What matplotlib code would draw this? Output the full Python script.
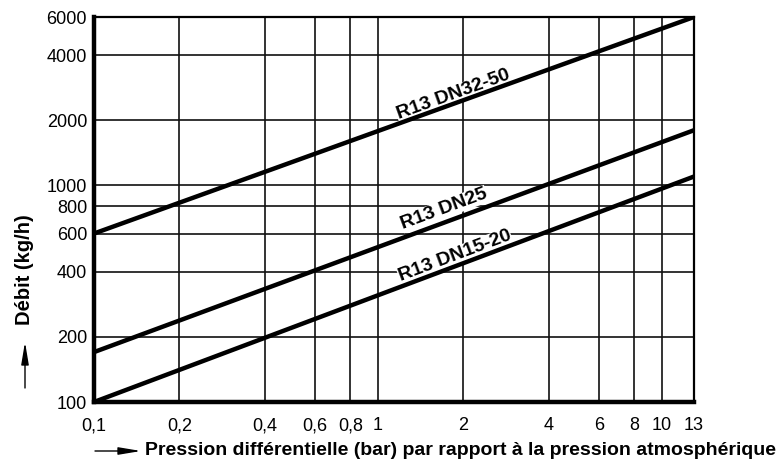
import matplotlib
matplotlib.use('Agg')
import matplotlib.pyplot as plt
import numpy as np

plt.rcParams['font.family'] = ['Liberation Sans', 'DejaVu Sans']

# pression differentielle (bar), debit (kg/h)
x_ends = [0.1, 13]
q_dn3250 = [600, 6000]
q_dn25 = [170, 1800]
q_dn1520 = [100, 1100]

x_ticks = [0.1, 0.2, 0.4, 0.6, 0.8, 1, 2, 4, 6, 8, 10, 13]
x_ticklabels = ['0,1', '0,2', '0,4', '0,6', '0,8', '1', '2', '4', '6', '8', '10', '13']
y_ticks = [100, 200, 400, 600, 800, 1000, 2000, 4000, 6000]
y_ticklabels = ['100', '200', '400', '600', '800', '1000', '2000', '4000', '6000']

series_names = ['R13 DN32-50', 'R13 DN25', 'R13 DN15-20']
label_x = [1.84, 1.71, 1.87]
label_y = [2618, 778, 472]

W, H = 784, 461
fig = plt.figure(figsize=(W / 100, H / 100), dpi=100)
ax = fig.add_axes([94 / W, 1 - 402 / H, 600 / W, 385 / H])
ax.set_xscale('log')
ax.set_yscale('log')
ax.set_xlim(x_ends[0], x_ends[1])
ax.set_ylim(100, 6000)

ax.set_xticks(x_ticks)
ax.set_xticklabels(x_ticklabels)
ax.set_yticks(y_ticks)
ax.set_yticklabels(y_ticklabels)
ax.minorticks_off()
ax.tick_params(axis='both', length=0, labelsize=13)
ax.tick_params(axis='x', pad=11)
ax.tick_params(axis='y', pad=5)

ax.set_axisbelow(True)
ax.grid(True, color='#111111', lw=1.2)

for side in ['left', 'bottom']:
    ax.spines[side].set_linewidth(3.2)
for side in ['top', 'right']:
    ax.spines[side].set_linewidth(1.6)

for q in [q_dn3250, q_dn25, q_dn1520]:
    ax.plot(x_ends, q, color='black', lw=3.2, zorder=4, solid_capstyle='butt')

# angle des etiquettes le long des droites
fig.canvas.draw()
for name, q, lx, ly in zip(series_names, [q_dn3250, q_dn25, q_dn1520], label_x, label_y):
    p0 = ax.transData.transform((x_ends[0], q[0]))
    p1 = ax.transData.transform((x_ends[1], q[1]))
    ang = np.degrees(np.arctan2(p1[1] - p0[1], p1[0] - p0[0]))
    ax.text(lx, ly, name, rotation=ang, rotation_mode='anchor', ha='center', va='center',
            fontsize=14, fontweight='bold', zorder=3,
            bbox=dict(facecolor='white', edgecolor='none', pad=0.3))

fig.text(145 / W, 1 - 450 / H,
         'Pression différentielle (bar) par rapport à la pression atmosphérique',
         ha='left', va='center', fontsize=14, fontweight='bold')
fig.text(25 / W, 1 - 270 / H, 'Débit (kg/h)', rotation=90,
         ha='center', va='center', fontsize=14.5, fontweight='bold')

arrow_style = dict(arrowstyle='-|>,head_length=0.9,head_width=0.15', color='black',
                   lw=1.0, mutation_scale=15, shrinkA=0, shrinkB=0)
ax.annotate('', xy=(141 / W, 1 - 451 / H), xytext=(95 / W, 1 - 451 / H),
            xycoords='figure fraction', textcoords='figure fraction',
            arrowprops=arrow_style)
ax.annotate('', xy=(25 / W, 1 - 342 / H), xytext=(25 / W, 1 - 388 / H),
            xycoords='figure fraction', textcoords='figure fraction',
            arrowprops=arrow_style)

fig.savefig('out.png', dpi=100)
